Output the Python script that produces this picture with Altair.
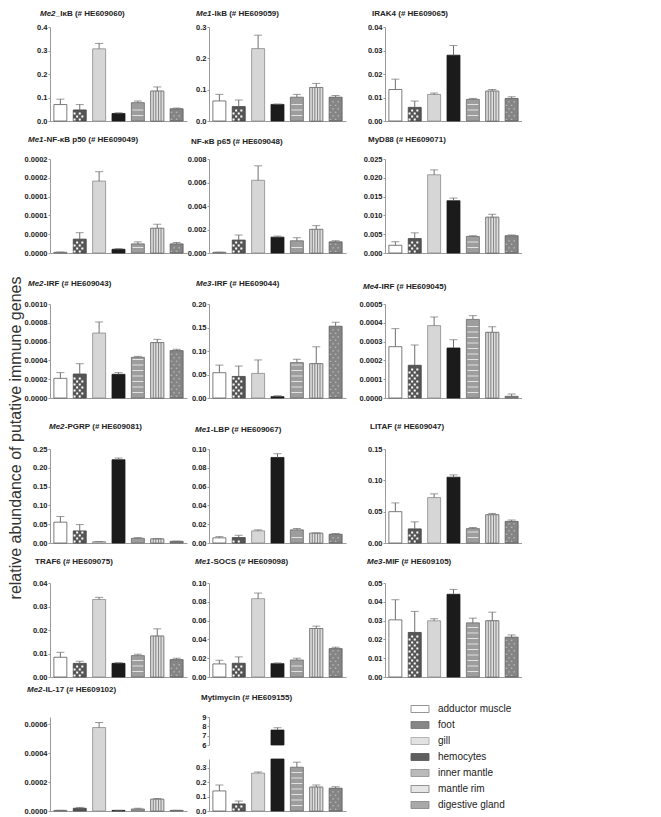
import altair as alt
import numpy as np
import pandas as pd

tissues = ["adductor muscle", "foot", "gill", "hemocytes", "inner mantle", "mantle rim", "digestive gland"]
fills = ["#ffffff", "#555555", "#d6d6d6", "#1b1b1b", "#9d9d9d", "#dcdcdc", "#858585"]
strokes = ["#5a5a5a", "#444444", "#8a8a8a", "#1b1b1b", "#6a6a6a", "#555555", "#5a5a5a"]

# ---- values (mean, SD) ----
me2_ikb_mean = [0.070, 0.047, 0.307, 0.032, 0.078, 0.127, 0.052]
me2_ikb_sd = [0.023, 0.023, 0.023, 0.003, 0.007, 0.018, 0.003]
me1_ikb_mean = [0.064, 0.046, 0.231, 0.053, 0.076, 0.107, 0.076]
me1_ikb_sd = [0.021, 0.021, 0.043, 0.001, 0.009, 0.013, 0.005]
irak4_mean = [0.0134, 0.0058, 0.0113, 0.0280, 0.0092, 0.0127, 0.0096]
irak4_sd = [0.0044, 0.0027, 0.0006, 0.0041, 0.0004, 0.0007, 0.0007]
p50_mean = [0.0000015, 0.0000295, 0.000153, 0.0000079, 0.0000194, 0.0000525, 0.0000194]
p50_sd = [0.0000005, 0.0000137, 0.000020, 0.0000015, 0.0000043, 0.0000087, 0.0000029]
p65_mean = [0.00006, 0.0011, 0.00619, 0.00135, 0.00104, 0.00201, 0.00095]
p65_sd = [0.00001, 0.00043, 0.00123, 0.00009, 0.00026, 0.00032, 0.00009]
myd88_mean = [0.00205, 0.00384, 0.0208, 0.0139, 0.0044, 0.0095, 0.0046]
myd88_sd = [0.00095, 0.00152, 0.0013, 0.0007, 0.0002, 0.0008, 0.0002]
me2_irf_mean = [0.000209, 0.000255, 0.000691, 0.000252, 0.000433, 0.000589, 0.000504]
me2_irf_sd = [0.000061, 0.000110, 0.000118, 0.000018, 0.000010, 0.000035, 0.000014]
me3_irf_mean = [0.0538, 0.0459, 0.0523, 0.0029, 0.0753, 0.0731, 0.1527]
me3_irf_sd = [0.0162, 0.0221, 0.0287, 0.0021, 0.0071, 0.0359, 0.0083]
me4_irf_mean = [0.000273, 0.000174, 0.000385, 0.000266, 0.000418, 0.000349, 0.0000089]
me4_irf_sd = [0.000096, 0.000108, 0.000046, 0.000044, 0.000020, 0.000030, 0.000012]
pgrp_mean = [0.0554, 0.0321, 0.0036, 0.2214, 0.0125, 0.0107, 0.0045]
pgrp_sd = [0.0151, 0.0169, 0.0003, 0.0046, 0.0018, 0.0009, 0.0005]
lbp_mean = [0.0055, 0.0058, 0.0129, 0.0910, 0.0140, 0.0104, 0.0093]
lbp_sd = [0.0013, 0.0024, 0.0011, 0.0040, 0.0014, 0.0003, 0.0007]
litaf_mean = [0.0500, 0.0225, 0.0725, 0.1050, 0.0230, 0.0450, 0.0345]
litaf_sd = [0.0140, 0.0113, 0.0059, 0.0037, 0.0017, 0.0022, 0.0022]
traf6_mean = [0.0084, 0.0058, 0.0330, 0.0058, 0.0091, 0.0174, 0.0074]
traf6_sd = [0.0021, 0.0009, 0.0009, 0.0003, 0.0006, 0.0031, 0.0006]
socs_mean = [0.0139, 0.0146, 0.0833, 0.0142, 0.0181, 0.0516, 0.0302]
socs_sd = [0.0039, 0.0068, 0.0060, 0.0008, 0.0019, 0.0025, 0.0015]
mif_mean = [0.0304, 0.0237, 0.0299, 0.0440, 0.0288, 0.0299, 0.0212]
mif_sd = [0.0107, 0.0112, 0.0011, 0.0026, 0.0025, 0.0046, 0.0012]
il17_mean = [0.000004, 0.000019, 0.000577, 0.000004, 0.000014, 0.0000813, 0.000004]
il17_sd = [0.000001, 0.000006, 0.000035, 0.000001, 0.000005, 0.000005, 0.000001]
myt_mean = [0.139, 0.049, 0.262, 7.6, 0.303, 0.165, 0.158]
myt_sd = [0.041, 0.020, 0.008, 0.25, 0.035, 0.015, 0.010]

# (italic prefix, rest of title, mean, sd, domain max, tick step, last tick, format)
panels = [
    ("Me2", "_IκB (# HE609060)", me2_ikb_mean, me2_ikb_sd, 0.4, 0.1, 0.4, ".1f"),
    ("Me1", "-IkB (# HE609059)", me1_ikb_mean, me1_ikb_sd, 0.3, 0.1, 0.3, ".1f"),
    ("", "IRAK4 (# HE609065)", irak4_mean, irak4_sd, 0.04, 0.01, 0.04, ".2f"),
    ("Me1", "-NF-κB p50 (# HE609049)", p50_mean, p50_sd, 0.0002, 0.00004, 0.0002, ".4f"),
    ("", "NF-κB p65 (# HE609048)", p65_mean, p65_sd, 0.008, 0.002, 0.008, ".3f"),
    ("", "MyD88 (# HE609071)", myd88_mean, myd88_sd, 0.025, 0.005, 0.025, ".3f"),
    ("Me2", "-IRF (# HE609043)", me2_irf_mean, me2_irf_sd, 0.001, 0.0002, 0.001, ".4f"),
    ("Me3", "-IRF (# HE609044)", me3_irf_mean, me3_irf_sd, 0.2, 0.05, 0.2, ".2f"),
    ("Me4", "-IRF (# HE609045)", me4_irf_mean, me4_irf_sd, 0.0005, 0.0001, 0.0005, ".4f"),
    ("Me2", "-PGRP (# HE609081)", pgrp_mean, pgrp_sd, 0.25, 0.05, 0.25, ".2f"),
    ("Me1", "-LBP (# HE609067)", lbp_mean, lbp_sd, 0.1, 0.02, 0.1, ".2f"),
    ("", "LITAF (# HE609047)", litaf_mean, litaf_sd, 0.15, 0.05, 0.15, ".2f"),
    ("", "TRAF6 (# HE609075)", traf6_mean, traf6_sd, 0.04, 0.01, 0.04, ".2f"),
    ("Me1", "-SOCS (# HE609098)", socs_mean, socs_sd, 0.1, 0.02, 0.1, ".2f"),
    ("Me3", "-MIF (# HE609105)", mif_mean, mif_sd, 0.05, 0.01, 0.05, ".2f"),
    ("Me2", "-IL-17 (# HE609102)", il17_mean, il17_sd, 0.00065, 0.0002, 0.0006, ".4f"),
]
myt_title = ("", "Mytimycin (# HE609155)")
myt_low = (0.36, 0.1, 0.3, ".1f")
myt_up = (6, 9, 1, "d")

ytitle = "relative abundance of putative immune genes"

# ---- layout ----
W, H = 137, 94
BOT = 5
col_left = [25, 22, 39]
row_top = [19, 33, 46, 46, 35, 35]
title_pos = [(-10, -13), (-13, -13), (-13, -13),
             (-22, -19), (-18, -17), (-17, -19),
             (-22, -20), (-13, -20), (-22, -17),
             (-1, -22), (-14, -19), (-15, -22),
             (-15, -21), (-14, -21), (-18, -21),
             (-23, -27), (-8, -19)]
AX = "#9a9a9a"
ERR = "#6f6f6f"
FONT = "Liberation Sans, Arial, sans-serif"
TFS = 8
ITW = 15.8

fill_enc = alt.Fill("tissue:N", scale=alt.Scale(domain=tissues, range=fills), legend=None)
stroke_enc = alt.Stroke("tissue:N", scale=alt.Scale(domain=tissues, range=strokes), legend=None)


def xenc():
    return alt.X("tissue:N", sort=tissues,
                 scale=alt.Scale(paddingInner=0.33, paddingOuter=0.2),
                 axis=alt.Axis(title=None, labels=False, ticks=False, grid=False,
                               domainColor=AX, domainWidth=1))


def xoff():
    return alt.XOffset("k:O", scale=alt.Scale(paddingInner=0, paddingOuter=0))


def yaxis(values, fmt):
    return alt.Axis(title=None, values=values, format=fmt, grid=False, orient="left",
                    domainColor=AX, tickColor=AX, tickSize=2, labelPadding=1, minExtent=0,
                    labelFont=FONT, labelFontSize=7.5, labelFontWeight="bold", labelColor="#222222")


def dot_grid(tissue, value, span, px, rowpx, checker):
    cst = span * rowpx / px
    pts = []
    for j in range(400):
        yv = (j + 0.5) * cst
        if yv > value - 0.5 * cst:
            break
        for k in range(4):
            if (not checker) or (j + k) % 2 == 0:
                pts.append((tissue, k, yv))
    return pts


def data_layers(mean, sd, ysc, axis, span, px, cap_limit=None):
    mean = np.array(mean, dtype=float)
    sd = np.array(sd, dtype=float)

    def Y(field):
        return alt.Y(field, scale=ysc, axis=axis)

    df = pd.DataFrame({"tissue": tissues, "mean": mean, "top": mean + sd})
    bars = alt.Chart(df).mark_bar(strokeWidth=0.8).encode(
        x=xenc(), y=Y("mean:Q"), fill=fill_enc, stroke=stroke_enc)
    layers = [bars]
    # foot: checker pattern (white squares)
    pts = dot_grid("foot", float(mean[1]), span, px, 3.0, True)
    if pts:
        fdf = pd.DataFrame(pts, columns=["tissue", "k", "mean"])
        layers.append(alt.Chart(fdf).mark_square(size=4, color="white", opacity=1, strokeWidth=0).encode(
            x=xenc(), xOffset=xoff(), y=Y("mean:Q")))
    # digestive gland: light dotted pattern
    pts = dot_grid("digestive gland", float(mean[6]), span, px, 3.5, True)
    if pts:
        gdf = pd.DataFrame(pts, columns=["tissue", "k", "mean"])
        layers.append(alt.Chart(gdf).mark_circle(size=3, color="#b4b4b4", opacity=1).encode(
            x=xenc(), xOffset=xoff(), y=Y("mean:Q")))
    # inner mantle: white horizontal stripes
    im = float(mean[4])
    st = span * 5.5 / px
    ks = [k * st for k in range(1, 200) if k * st < im - 0.4 * st]
    if ks:
        sdf = pd.DataFrame({"tissue": ["inner mantle"] * len(ks), "mean": ks})
        layers.append(alt.Chart(sdf).mark_tick(color="white", thickness=1, size=11, orient="horizontal").encode(
            x=xenc(), y=Y("mean:Q")))
    # mantle rim: vertical stripes
    rdf = pd.DataFrame({"tissue": ["mantle rim"] * 5, "k": list(range(5)), "mean": [float(mean[5])] * 5})
    layers.append(alt.Chart(rdf).mark_bar(fill="#dedede", stroke="#6a6a6a", strokeWidth=0.6).encode(
        x=xenc(), xOffset=xoff(), y=Y("mean:Q")))
    edf = df if cap_limit is None else df[df["top"] <= cap_limit]
    layers.append(alt.Chart(edf).mark_rule(color=ERR, strokeWidth=1).encode(
        x=xenc(), y=Y("mean:Q"), y2="top:Q"))
    cdf = pd.DataFrame({"tissue": edf["tissue"], "mean": edf["top"]})
    layers.append(alt.Chart(cdf).mark_tick(color=ERR, thickness=1, size=8, orient="horizontal").encode(
        x=xenc(), y=Y("mean:Q")))
    return layers


def deco_layers(italic, rest, tx, ty, L, T):
    tdf = pd.DataFrame({"a": [italic], "b": [rest]})
    out = []
    off = 0
    if italic:
        out.append(alt.Chart(tdf).mark_text(align="left", baseline="middle", font=FONT, fontSize=TFS,
                                            fontWeight="bold", fontStyle="italic", color="#222222").encode(
            x=alt.value(tx), y=alt.value(ty), text="a:N"))
        off = ITW
    out.append(alt.Chart(tdf).mark_text(align="left", baseline="middle", font=FONT, fontSize=TFS,
                                        fontWeight="bold", color="#222222").encode(
        x=alt.value(tx + off), y=alt.value(ty), text="b:N"))
    out.append(alt.Chart(tdf).mark_rule(strokeOpacity=0, color="white").encode(
        x=alt.value(-L), x2=alt.value(W), y=alt.value(-T), y2=alt.value(H + BOT)))
    return out


cells = []
for i, (it, rest, mean, sd, dmax, step, tmax, fmt) in enumerate(panels):
    r, c = divmod(i, 3)
    ticks = np.round(np.arange(0, tmax + step / 2, step), 10).tolist()
    ysc = alt.Scale(domain=[0, dmax], nice=False, zero=False)
    layers = data_layers(mean, sd, ysc, yaxis(ticks, fmt), dmax, H)
    tx, ty = title_pos[i]
    layers += deco_layers(it, rest, tx, ty, col_left[c], row_top[r])
    cells.append(alt.layer(*layers).properties(width=W, height=H))

# Mytimycin with broken axis
lo_max, lo_step, lo_tmax, lo_fmt = myt_low
lo_ticks = np.round(np.arange(0, lo_tmax + lo_step / 2, lo_step), 10).tolist()
ysc_lo = alt.Scale(domain=[0, lo_max], range=[94, 42], clamp=True, nice=False, zero=False)
low = data_layers(myt_mean, myt_sd, ysc_lo, yaxis(lo_ticks, lo_fmt), lo_max, 52, cap_limit=lo_max)
tx, ty = title_pos[16]
low += deco_layers(myt_title[0], myt_title[1], tx, ty, col_left[1], row_top[5])
u0, u1, ustep, ufmt = myt_up
up_ticks = list(range(u0, u1 + 1, ustep))
ysc_up = alt.Scale(domain=[u0, u1], range=[28, 0], clamp=True, nice=False, zero=False)
up_axis = yaxis(up_ticks, ufmt)
hdf = pd.DataFrame({"tissue": [tissues[3]], "mean": [myt_mean[3]], "top": [myt_mean[3] + myt_sd[3]]})
hcap = pd.DataFrame({"tissue": [tissues[3]], "mean": [myt_mean[3] + myt_sd[3]]})
up_bar = alt.Chart(hdf).mark_bar(strokeWidth=0.8).encode(
    x=xenc(), y=alt.Y("mean:Q", scale=ysc_up, axis=up_axis), y2=alt.datum(u0),
    fill=fill_enc, stroke=stroke_enc)
up_rule = alt.Chart(hdf).mark_rule(color=ERR, strokeWidth=1).encode(
    x=xenc(), y=alt.Y("mean:Q", scale=ysc_up, axis=up_axis), y2="top:Q")
up_cap = alt.Chart(hcap).mark_tick(color=ERR, thickness=1, size=8, orient="horizontal").encode(
    x=xenc(), y=alt.Y("mean:Q", scale=ysc_up, axis=up_axis))
myt = alt.layer(alt.layer(*low), alt.layer(up_bar, up_rule, up_cap)).resolve_scale(y="independent").properties(
    width=W, height=H)
cells.append(myt)

# legend cell
ldf = pd.DataFrame({"tissue": tissues})
ly = alt.Y("tissue:N", sort=tissues, scale=alt.Scale(type="point", range=[-8, 88], padding=0), axis=None)
sw = alt.Chart(ldf).mark_tick(orient="horizontal", thickness=7, size=18, strokeWidth=0.9).encode(
    x=alt.value(35), y=ly, fill=fill_enc, stroke=stroke_enc)
lt = alt.Chart(ldf).mark_text(align="left", baseline="middle", font=FONT, fontSize=10, color="#222222").encode(
    x=alt.value(53), y=ly, text="tissue:N")
lsp = alt.Chart(pd.DataFrame({"a": [0]})).mark_rule(strokeOpacity=0, color="white").encode(
    x=alt.value(-col_left[2]), x2=alt.value(W), y=alt.value(-row_top[5]), y2=alt.value(H + BOT))
cells.append(alt.layer(sw, lt, lsp).properties(width=W, height=H))

chart = alt.concat(*cells, columns=3, spacing={"row": 0, "column": 0}, align="each").resolve_scale(
    x="independent", y="independent").properties(
    title=alt.TitleParams(text=ytitle, orient="left", anchor="middle", fontSize=16, fontWeight="normal",
                          font=FONT, color="#333333", offset=0, dx=-26),
    padding=0).configure_view(strokeWidth=0)

chart.save("out.html", embed_options={"renderer": "svg", "actions": False})
